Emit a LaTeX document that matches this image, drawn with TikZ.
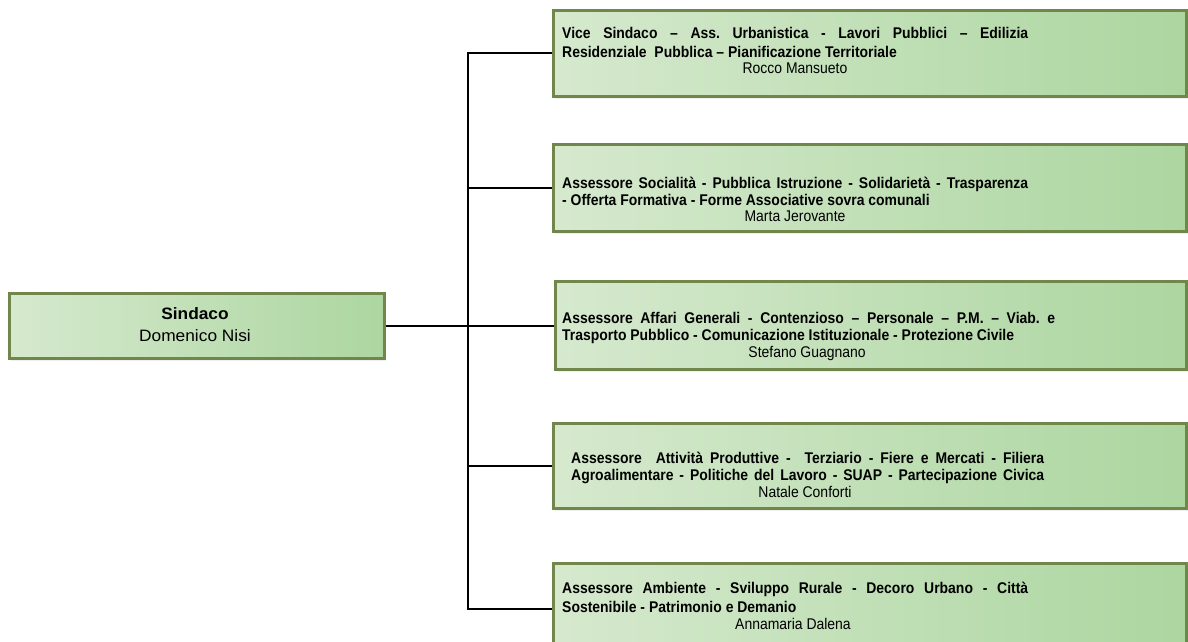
\documentclass[tikz,border=0pt]{standalone}
\usepackage{fontspec}
\setmainfont{Liberation Sans}[FakeStretch=0.9]
\newfontfamily\mayorfont{Liberation Sans}[FakeStretch=1.05]
\usetikzlibrary{shadows,backgrounds}
\frenchspacing
\definecolor{edgegreen}{RGB}{112,134,74}
\definecolor{filllight}{RGB}{214,233,206}
\definecolor{filldark}{RGB}{172,214,160}
\tikzset{
  office/.style={draw=edgegreen, line width=3pt, left color=filllight, right color=filldark,
    inner sep=0pt, anchor=north west,
    drop shadow={opacity=0.12, shadow xshift=1pt, shadow yshift=-2pt}},
  wire/.style={line width=2pt, black},
  role/.style={anchor=base west, inner sep=0pt, font=\fontsize{15.5}{17}\selectfont\bfseries},
  person/.style={anchor=base, inner sep=0pt, font=\fontsize{15.5}{17}\selectfont},
}
\begin{document}
\begin{tikzpicture}[x=1pt, y=-1pt]
\useasboundingbox (0,0) rectangle (1188,642);
\clip (0,0) rectangle (1188,642);

% mayor
\node[office, minimum width=375pt, minimum height=65pt] (mayor) at (8,292) {};
\node[anchor=base, inner sep=0pt, font=\mayorfont\fontsize{16.5}{18}\selectfont\bfseries] (mayorrole) at (195,319) {Sindaco};
\node[anchor=base, inner sep=0pt, font=\mayorfont\fontsize{16.5}{18}\selectfont] (mayorname) at (195,341) {Domenico Nisi};

% council members
\node[office, minimum width=633pt, minimum height=86pt] (b1) at (552,9) {};
\node[office, minimum width=633pt, minimum height=87pt] (b2) at (552,143) {};
\node[office, minimum width=631pt, minimum height=88pt] (b3) at (554,280) {};
\node[office, minimum width=633pt, minimum height=85pt] (b4) at (552,422) {};
\node[office, minimum width=633pt, minimum height=90pt] (b5) at (552,562) {};

% connectors, kept behind the boxes
\coordinate (bus) at (468,0);
\begin{pgfonlayer}{background}
\fill[white] (0,0) rectangle (1188,642);
\draw[wire] (mayor.east) -- (mayor.east -| bus);
\draw[wire] (b1.west) -- (bus |- b1.west) -- (bus |- b5.west) -- (b5.west);
\draw[wire] (bus |- b2.west) -- (b2.west);
\draw[wire] (bus |- b3.west) -- (b3.west);
\draw[wire] (bus |- b4.west) -- (b4.west);
\end{pgfonlayer}

% texts
\node[role] (b1a) at (562,39) {\makebox[466pt][s]{Vice Sindaco – Ass. Urbanistica - Lavori Pubblici – Edilizia}};
\node[role] (b1b) at (562,57) {Residenziale \ Pubblica – Pianificazione Territoriale};
\node[person] (b1n) at (795,74) {Rocco Mansueto};

\node[role] (b2a) at (562,188) {\makebox[466pt][s]{Assessore Socialità - Pubblica Istruzione - Solidarietà - Trasparenza}};
\node[role] (b2b) at (562,205) {- Offerta Formativa - Forme Associative sovra comunali};
\node[person] (b2n) at (795,221) {Marta Jerovante};

\node[role] (b3a) at (562,323) {\makebox[493pt][s]{Assessore Affari Generali - Contenzioso – Personale – P.M. – Viab. e}};
\node[role] (b3b) at (562,340) {Trasporto Pubblico - Comunicazione Istituzionale - Protezione Civile};
\node[person] (b3n) at (807,357) {Stefano Guagnano};

\node[role] (b4a) at (571,463) {\makebox[473pt][s]{Assessore \ Attività Produttive - \ Terziario - Fiere e Mercati - Filiera}};
\node[role] (b4b) at (571,480) {\makebox[473pt][s]{Agroalimentare - Politiche del Lavoro - SUAP - Partecipazione Civica}};
\node[person] (b4n) at (805,497) {Natale Conforti};

\node[role] (b5a) at (562,593) {\makebox[466pt][s]{Assessore Ambiente - Sviluppo Rurale - Decoro Urbano - Città}};
\node[role] (b5b) at (562,612) {Sostenibile - Patrimonio e Demanio};
\node[person] (b5n) at (793,629) {Annamaria Dalena};
\end{tikzpicture}
\end{document}
